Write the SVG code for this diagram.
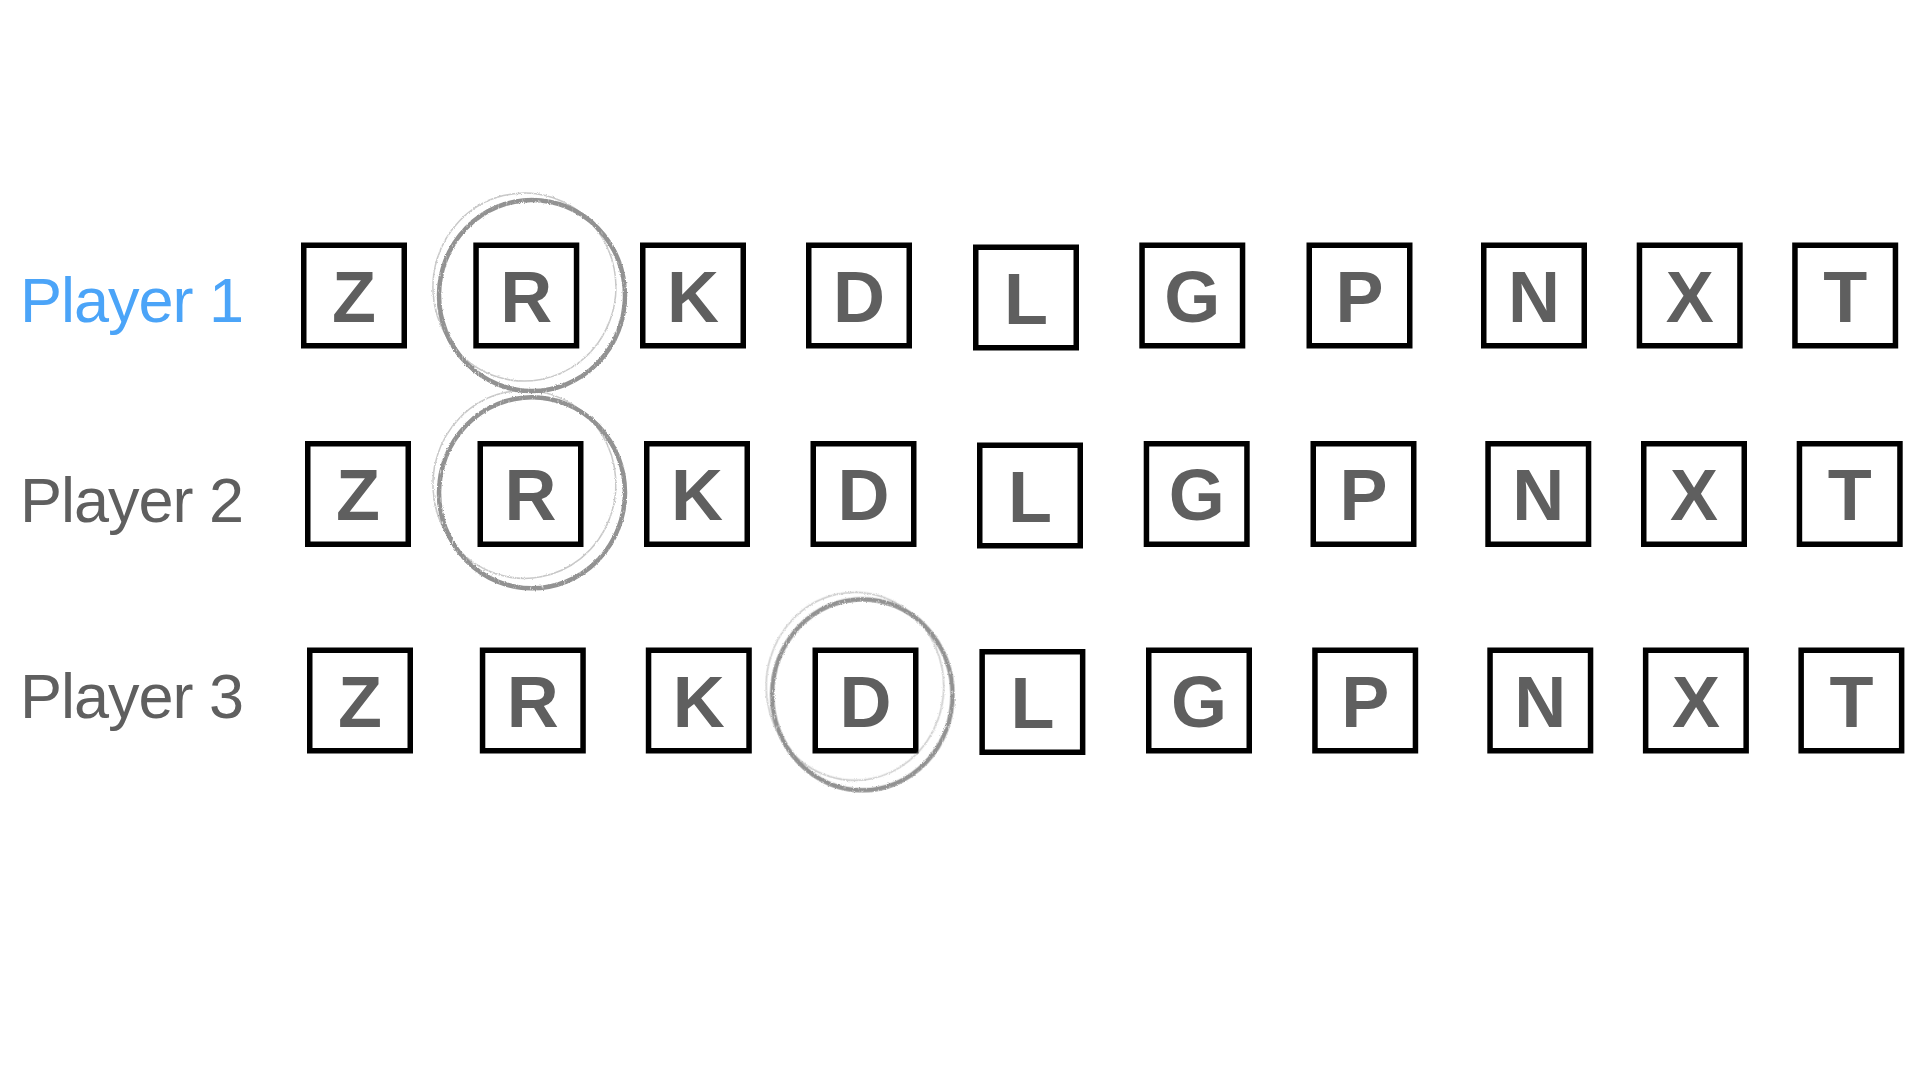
<svg xmlns="http://www.w3.org/2000/svg" width="1920" height="1080" viewBox="0 0 1920 1080">
<style>
  .tile { fill: #ffffff; stroke: #000000; stroke-width: 5.5; }
  .glyph { font-family: "Liberation Sans", Arial, sans-serif; font-weight: bold; font-size: 72px; fill: #5f5f5f; text-anchor: middle; }
  .label { font-family: "Liberation Sans", Arial, sans-serif; font-size: 63px; letter-spacing: -1px; fill: #5f5f5f; }
  .label.active { fill: #4ba4f8; }
  .brush { fill: none; stroke: #929292; }
</style>
<defs>
  <filter id="rough" x="-10%" y="-10%" width="120%" height="120%">
    <feTurbulence type="fractalNoise" baseFrequency="0.9" numOctaves="2" seed="4" result="noise"/>
    <feDisplacementMap in="SourceGraphic" in2="noise" scale="2.5" xChannelSelector="R" yChannelSelector="G" result="disp"/>
    <feTurbulence type="fractalNoise" baseFrequency="0.5 0.2" numOctaves="2" seed="9" result="grain"/>
    <feColorMatrix in="grain" type="matrix" values="0 0 0 0 0  0 0 0 0 0  0 0 0 0 0  0 0 0 -3 2.9" result="mask"/>
    <feComposite in="disp" in2="mask" operator="in"/>
  </filter>
  <g id="brushcircle">
    <ellipse class="brush" cx="0" cy="0" rx="93" ry="95.5" stroke-width="4.5"/>
    <path class="brush" d="M 58 -74 A 91.5 94 0 1 0 64 -67" stroke-width="1.5" opacity="0.5"/>
    <path class="brush" d="M -25 91 A 93 95.5 0 0 1 -93 5" stroke-width="2" opacity="0.7" transform="translate(-1 1)"/>
    <path class="brush" d="M 62 -69 Q 80 -50 88 -30" stroke-width="1.2" opacity="0.6"/>
  </g>
</defs>
<rect x="0" y="0" width="1920" height="1080" fill="#ffffff"/>

<g id="labels">
  <text id="label-player1" class="label active" x="20" y="321.7">Player 1</text>
  <text id="label-player2" class="label" x="20" y="521.7">Player 2</text>
  <text id="label-player3" class="label" x="20" y="718.3">Player 3</text>
</g>

<g id="row1">
  <g id="r1-Z" transform="translate(301 242.5)"><rect class="tile" x="2.75" y="2.75" width="100.5" height="100.5"/><text class="glyph" x="53" y="79">Z</text></g>
  <g id="r1-R" transform="translate(473.3 242.5)"><rect class="tile" x="2.75" y="2.75" width="100.5" height="100.5"/><text class="glyph" x="53" y="79">R</text></g>
  <g id="r1-K" transform="translate(640 242.5)"><rect class="tile" x="2.75" y="2.75" width="100.5" height="100.5"/><text class="glyph" x="53" y="79">K</text></g>
  <g id="r1-D" transform="translate(806 242.5)"><rect class="tile" x="2.75" y="2.75" width="100.5" height="100.5"/><text class="glyph" x="53" y="79">D</text></g>
  <g id="r1-L" transform="translate(973 244.5)"><rect class="tile" x="2.75" y="2.75" width="100.5" height="100.5"/><text class="glyph" x="53" y="79">L</text></g>
  <g id="r1-G" transform="translate(1139.3 242.5)"><rect class="tile" x="2.75" y="2.75" width="100.5" height="100.5"/><text class="glyph" x="53" y="79">G</text></g>
  <g id="r1-P" transform="translate(1306.5 242.5)"><rect class="tile" x="2.75" y="2.75" width="100.5" height="100.5"/><text class="glyph" x="53" y="79">P</text></g>
  <g id="r1-N" transform="translate(1481 242.5)"><rect class="tile" x="2.75" y="2.75" width="100.5" height="100.5"/><text class="glyph" x="53" y="79">N</text></g>
  <g id="r1-X" transform="translate(1636.7 242.5)"><rect class="tile" x="2.75" y="2.75" width="100.5" height="100.5"/><text class="glyph" x="53" y="79">X</text></g>
  <g id="r1-T" transform="translate(1792.2 242.5)"><rect class="tile" x="2.75" y="2.75" width="100.5" height="100.5"/><text class="glyph" x="53" y="79">T</text></g>
</g>

<g id="row2">
  <g id="r2-Z" transform="translate(305 441)"><rect class="tile" x="2.75" y="2.75" width="100.5" height="100.5"/><text class="glyph" x="53" y="79">Z</text></g>
  <g id="r2-R" transform="translate(477.5 441)"><rect class="tile" x="2.75" y="2.75" width="100.5" height="100.5"/><text class="glyph" x="53" y="79">R</text></g>
  <g id="r2-K" transform="translate(644 441)"><rect class="tile" x="2.75" y="2.75" width="100.5" height="100.5"/><text class="glyph" x="53" y="79">K</text></g>
  <g id="r2-D" transform="translate(810.5 441)"><rect class="tile" x="2.75" y="2.75" width="100.5" height="100.5"/><text class="glyph" x="53" y="79">D</text></g>
  <g id="r2-L" transform="translate(977 442.5)"><rect class="tile" x="2.75" y="2.75" width="100.5" height="100.5"/><text class="glyph" x="53" y="79">L</text></g>
  <g id="r2-G" transform="translate(1143.7 441)"><rect class="tile" x="2.75" y="2.75" width="100.5" height="100.5"/><text class="glyph" x="53" y="79">G</text></g>
  <g id="r2-P" transform="translate(1310.5 441)"><rect class="tile" x="2.75" y="2.75" width="100.5" height="100.5"/><text class="glyph" x="53" y="79">P</text></g>
  <g id="r2-N" transform="translate(1485.3 441)"><rect class="tile" x="2.75" y="2.75" width="100.5" height="100.5"/><text class="glyph" x="53" y="79">N</text></g>
  <g id="r2-X" transform="translate(1641 441)"><rect class="tile" x="2.75" y="2.75" width="100.5" height="100.5"/><text class="glyph" x="53" y="79">X</text></g>
  <g id="r2-T" transform="translate(1796.7 441)"><rect class="tile" x="2.75" y="2.75" width="100.5" height="100.5"/><text class="glyph" x="53" y="79">T</text></g>
</g>

<g id="row3">
  <g id="r3-Z" transform="translate(307 647.5)"><rect class="tile" x="2.75" y="2.75" width="100.5" height="100.5"/><text class="glyph" x="53" y="79">Z</text></g>
  <g id="r3-R" transform="translate(479.8 647.5)"><rect class="tile" x="2.75" y="2.75" width="100.5" height="100.5"/><text class="glyph" x="53" y="79">R</text></g>
  <g id="r3-K" transform="translate(645.8 647.5)"><rect class="tile" x="2.75" y="2.75" width="100.5" height="100.5"/><text class="glyph" x="53" y="79">K</text></g>
  <g id="r3-D" transform="translate(812.5 647.5)"><rect class="tile" x="2.75" y="2.75" width="100.5" height="100.5"/><text class="glyph" x="53" y="79">D</text></g>
  <g id="r3-L" transform="translate(979.4 649)"><rect class="tile" x="2.75" y="2.75" width="100.5" height="100.5"/><text class="glyph" x="53" y="79">L</text></g>
  <g id="r3-G" transform="translate(1146 647.5)"><rect class="tile" x="2.75" y="2.75" width="100.5" height="100.5"/><text class="glyph" x="53" y="79">G</text></g>
  <g id="r3-P" transform="translate(1312.2 647.5)"><rect class="tile" x="2.75" y="2.75" width="100.5" height="100.5"/><text class="glyph" x="53" y="79">P</text></g>
  <g id="r3-N" transform="translate(1487.3 647.5)"><rect class="tile" x="2.75" y="2.75" width="100.5" height="100.5"/><text class="glyph" x="53" y="79">N</text></g>
  <g id="r3-X" transform="translate(1642.9 647.5)"><rect class="tile" x="2.75" y="2.75" width="100.5" height="100.5"/><text class="glyph" x="53" y="79">X</text></g>
  <g id="r3-T" transform="translate(1798.4 647.5)"><rect class="tile" x="2.75" y="2.75" width="100.5" height="100.5"/><text class="glyph" x="53" y="79">T</text></g>
</g>

<g id="highlights" filter="url(#rough)">
  <use id="circle-r1" href="#brushcircle" transform="translate(532 295.5)"/>
  <use id="circle-r2" href="#brushcircle" transform="translate(532 492.8)"/>
  <use id="circle-r3" href="#brushcircle" transform="translate(862.3 694.7) scale(0.97 1)"/>
</g>
</svg>
